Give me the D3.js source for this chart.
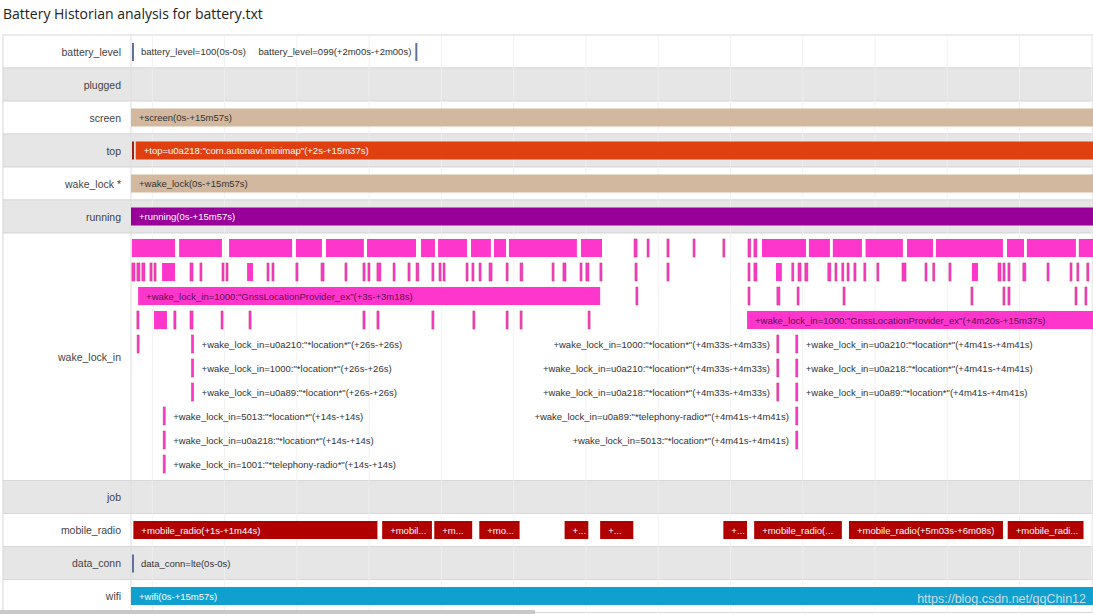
<!DOCTYPE html>
<html><head><meta charset="utf-8">
<script src="https://cdn.jsdelivr.net/npm/d3@7"></script>
<style>body{margin:0;background:#fff;font-family:"Liberation Sans",Arial,sans-serif}</style>
</head><body><svg id="c" width="1093" height="614"></svg>
<script>
const rowNames=["battery_level","plugged","screen","top","wake_lock *","running","wake_lock_in","job","mobile_radio","data_conn","wifi"];
const rowHeights=[1,1,1,1,1,1,7.5,1,1,1,1];
const batteryTicks=[[0,"battery_level=100(0s-0s)"],[120,"battery_level=099(+2m00s-+2m00s)"]];
const screenBar=[0,957,"+screen(0s-+15m57s)"];
const topBar=[2,937,"+top=u0a218:\"com.autonavi.minimap\"(+2s-+15m37s)"];
const wakeBar=[0,957,"+wake_lock(0s-+15m57s)"];
const runningBar=[0,957,"+running(0s-+15m57s)"];
const wifiBar=[0,957,"+wifi(0s-+15m57s)"];
const dataConn=[0,"data_conn=lte(0s-0s)"];
const lane1=[[0.4,19],[20.3,38.8],[41.4,68.4],[69.6,81],[82.3,98.7],[99.6,120.7],[122.4,128.7],[129.6,142.2],[143.5,152.3],[153.2,158.7],[159.5,188.6],[189.9,199.2],[212.3,214],[217.8,219],[226.2,227.5],[237.2,238],[249.8,251],[260.4,262],[262.9,264.6],[266.3,285.3],[286.1,295.4],[296.2,308.9],[310,326.2],[327.5,338.9],[339.7,368.4],[369.7,377.3],[378.1,399.2],[400,420]];
const lane2=[[0.4,2.1],[2.5,4.2],[4.6,6.3],[8,9.3],[9.7,11],[13.1,19],[24.9,26.6],[29.1,30],[38.4,39.2],[40.1,40.9],[49,51.9],[57.4,58.2],[59.5,60.3],[69.6,70.9],[80.2,81.9],[90.3,91.2],[97.9,99.2],[100,100.9],[103.8,105.9],[110.6,111.4],[116.9,118.2],[120.3,121.9],[127,127.9],[130,130.8],[131.7,132.1],[141.4,142.6],[143.9,144.7],[146.9,148.1],[151.1,152.8],[158.3,159.1],[164.2,165.8],[177.7,178.1],[182.3,184],[189.5,190.3],[192,193.7],[197.9,199.2],[212.7,214],[226.2,227.5],[260.4,261.2],[262.9,264.6],[272.2,275.1],[278.9,279.8],[281.5,283.2],[284.4,286.1],[294.1,295.8],[297.1,298.3],[300,300.5],[302.2,303],[305.1,306.4],[309.3,310.2],[314.8,315.7],[325.4,327.5],[335.1,335.9],[338.4,339.3],[345.2,346.5],[354.9,357.9],[365.9,367.6],[368,369.3],[370.1,371.4],[376.4,378.1],[386.6,387.4],[396.3,397.5],[399.2,400],[403.4,404.7]];
const lane3=[[213.1,214],[260.4,261.2],[272.6,274.3],[281.1,281.9],[300.5,301.3],[354.5,355.3],[368,368.8],[370.1,371.4],[398.4,399.2],[402.6,403.4]];
const lane4=[[2.5,3.8],[9.7,15.6],[18.1,19.4],[24.9,26.6],[38,38.8],[49.8,51.1],[97.9,99.2],[103.8,105.1],[127,127.9],[144.3,145.1],[158.3,159.1],[164.2,165.4],[192.9,194.1]];
const gpsBars=[[3,198,2,"+wake_lock_in=1000:\"GnssLocationProvider_ex\"(+3s-+3m18s)"],[260,957,3,"+wake_lock_in=1000:\"GnssLocationProvider_ex\"(+4m20s-+15m37s)"]];
// point events: [time, lane, label, side]
const points=[
 [3,4,"","r"],[26,4,"+wake_lock_in=u0a210:\"*location*\"(+26s-+26s)","r"],[273,4,"+wake_lock_in=1000:\"*location*\"(+4m33s-+4m33s)","l"],[281,4,"+wake_lock_in=u0a210:\"*location*\"(+4m41s-+4m41s)","r"],
 [26,5,"+wake_lock_in=1000:\"*location*\"(+26s-+26s)","r"],[273,5,"+wake_lock_in=u0a210:\"*location*\"(+4m33s-+4m33s)","l"],[281,5,"+wake_lock_in=u0a218:\"*location*\"(+4m41s-+4m41s)","r"],
 [26,6,"+wake_lock_in=u0a89:\"*location*\"(+26s-+26s)","r"],[273,6,"+wake_lock_in=u0a218:\"*location*\"(+4m33s-+4m33s)","l"],[281,6,"+wake_lock_in=u0a89:\"*location*\"(+4m41s-+4m41s)","r"],
 [14,7,"+wake_lock_in=5013:\"*location*\"(+14s-+14s)","r"],[281,7,"+wake_lock_in=u0a89:\"*telephony-radio*\"(+4m41s-+4m41s)","l"],
 [14,8,"+wake_lock_in=u0a218:\"*location*\"(+14s-+14s)","r"],[281,8,"+wake_lock_in=5013:\"*location*\"(+4m41s-+4m41s)","l"],
 [14,9,"+wake_lock_in=1001:\"*telephony-radio*\"(+14s-+14s)","r"]];
const radio=[[1,104,"+mobile_radio(+1s-+1m44s)"],[106,127,"+mobile_radio(+1m46s-+2m07s)"],[128,144,"+mobile_radio(+2m08s-+2m24s)"],[147,164,"+mobile_radio(+2m27s-+2m44s)"],[183,193,"+mobile_radio(+3m03s-+3m13s)"],[198,212,"+mobile_radio(+3m18s-+3m32s)"],[250,260,"+mobile_radio(+4m10s-+4m20s)"],[263,300,"+mobile_radio(+4m23s-+5m00s)"],[303,368,"+mobile_radio(+5m03s-+6m08s)"],[370,402,"+mobile_radio(+6m10s-+6m42s)"]];
const gridTimes=d3.range(9,420,30.5);

const svg=d3.select("#c");
const x=d3.scaleLinear().domain([0,406]).range([131,1093]);
const unit=33, top0=35;
const rowY=[];let acc=top0;rowHeights.forEach(h=>{rowY.push(acc);acc+=h*unit;});
svg.append("text").attr("x",3).attr("y",19).attr("font-family","'Open Sans',sans-serif").attr("font-size",14).attr("fill","#222").text("Battery Historian analysis for battery.txt");
const clip=svg.append("clipPath").attr("id","cl").append("rect").attr("x",131).attr("y",0).attr("width",962).attr("height",614);
rowNames.forEach((n,i)=>{
  svg.append("rect").attr("x",3).attr("y",rowY[i]).attr("width",1090).attr("height",rowHeights[i]*unit).attr("fill",i%2?"#e6e6e6":"#fff").attr("stroke","#d8d8d8");
  svg.append("text").attr("x",121).attr("y",rowY[i]+rowHeights[i]*unit/2+4).attr("text-anchor","end").attr("font-size",10.5).attr("fill","#444").text(n);
});
svg.append("line").attr("x1",131).attr("x2",131).attr("y1",35).attr("y2",613).attr("stroke","#ddd");
const g=svg.append("g").attr("clip-path","url(#cl)");
g.selectAll(".grid").data(gridTimes).join("line").attr("x1",d=>x(d)).attr("x2",d=>x(d)).attr("y1",35).attr("y2",613).attr("stroke","#f0f0f0").attr("stroke-width",1).attr("opacity",0.8);
function bar(row,s,e,color,label,tc,yOff,h){
  const y=rowY[row]+(yOff??7.5), hh=h??18;
  g.append("rect").attr("x",x(s)).attr("y",y).attr("width",x(e)-x(s)).attr("height",hh).attr("fill",color);
  if(label){const t=g.append("text").attr("x",x(s)+8).attr("y",y+hh/2+3.5).attr("font-size",9.5).attr("fill",tc).text(label);
    const maxW=x(e)-x(s)-12; let str=label;
    while(t.node().getComputedTextLength()>maxW && str.length>1){str=str.slice(0,-1);t.text(str+"...");}
  }
}
// battery
batteryTicks.forEach(([t,l],i)=>{
  g.append("rect").attr("x",x(t)+(i?0:1)).attr("y",rowY[0]+8).attr("width",2).attr("height",18).attr("fill","#6070a0");
});
svg.append("text").attr("x",141).attr("y",rowY[0]+20).attr("font-size",9.5).attr("fill","#333").text(batteryTicks[0][1]);
svg.append("text").attr("x",x(batteryTicks[1][0])-4).attr("y",rowY[0]+20).attr("text-anchor","end").attr("font-size",9.5).attr("fill","#333").text(batteryTicks[1][1]);
bar(2,screenBar[0],screenBar[1],"#d2b89e",screenBar[2],"#333");
bar(3,topBar[0],topBar[1],"#e0400f",topBar[2],"#fff");
g.append("rect").attr("x",x(0)+1).attr("y",rowY[3]+7.5).attr("width",2).attr("height",18).attr("fill","#a02010");
bar(4,wakeBar[0],wakeBar[1],"#d2b89e",wakeBar[2],"#333");
bar(5,runningBar[0],runningBar[1],"#990099",runningBar[2],"#fff");
const laneY=l=>rowY[6]+6+l*24;
const pink="#ff36cc";
[[lane1,0],[lane2,1],[lane3,2],[lane4,3]].forEach(([arr,l])=>{
  g.selectAll(null).data(arr).join("rect").attr("x",d=>x(d[0])).attr("y",laneY(l)).attr("width",d=>Math.max(2,x(d[1])-x(d[0])-1)).attr("height",18)
   .attr("fill",pink).attr("stroke",d=>(x(d[1])-x(d[0])<6)?"#c84080":"none").attr("stroke-width",0.6);
});
gpsBars.forEach(([s,e,l,lab])=>{
  g.append("rect").attr("x",x(s)).attr("y",laneY(l)).attr("width",x(e)-x(s)).attr("height",18).attr("fill",pink);
  g.append("text").attr("x",x(s)+8).attr("y",laneY(l)+12.5).attr("font-size",9.5).attr("fill","#5a1050").text(lab);
});
points.forEach(([t,l,lab,side])=>{
  g.append("rect").attr("x",x(t)-1).attr("y",laneY(l)).attr("width",2).attr("height",18).attr("fill",pink).attr("stroke","#c84080").attr("stroke-width",0.6);
  if(lab) g.append("text").attr("x",side=="r"?x(t)+9:x(t)-8).attr("y",laneY(l)+12.5).attr("text-anchor",side=="r"?"start":"end").attr("font-size",9.5).attr("fill","#333").text(lab);
});
radio.forEach(([s,e,l])=>bar(8,s,e,"#b00000",l,"#fff"));
g.append("rect").attr("x",x(dataConn[0])+1).attr("y",rowY[9]+8).attr("width",2).attr("height",18).attr("fill","#6070a0");
svg.append("text").attr("x",141).attr("y",rowY[9]+20).attr("font-size",9.5).attr("fill","#333").text(dataConn[1]);
bar(10,wifiBar[0],wifiBar[1],"#10a0cf",wifiBar[2],"#fff");
svg.append("text").attr("x",1086).attr("y",603).attr("text-anchor","end").attr("font-size",12.5).attr("fill","#c8dde8").text("https://blog.csdn.net/qqChin12");
svg.append("rect").attr("x",0).attr("y",610).attr("width",535).attr("height",4).attr("fill","#c8c8c8");
</script></body></html>
